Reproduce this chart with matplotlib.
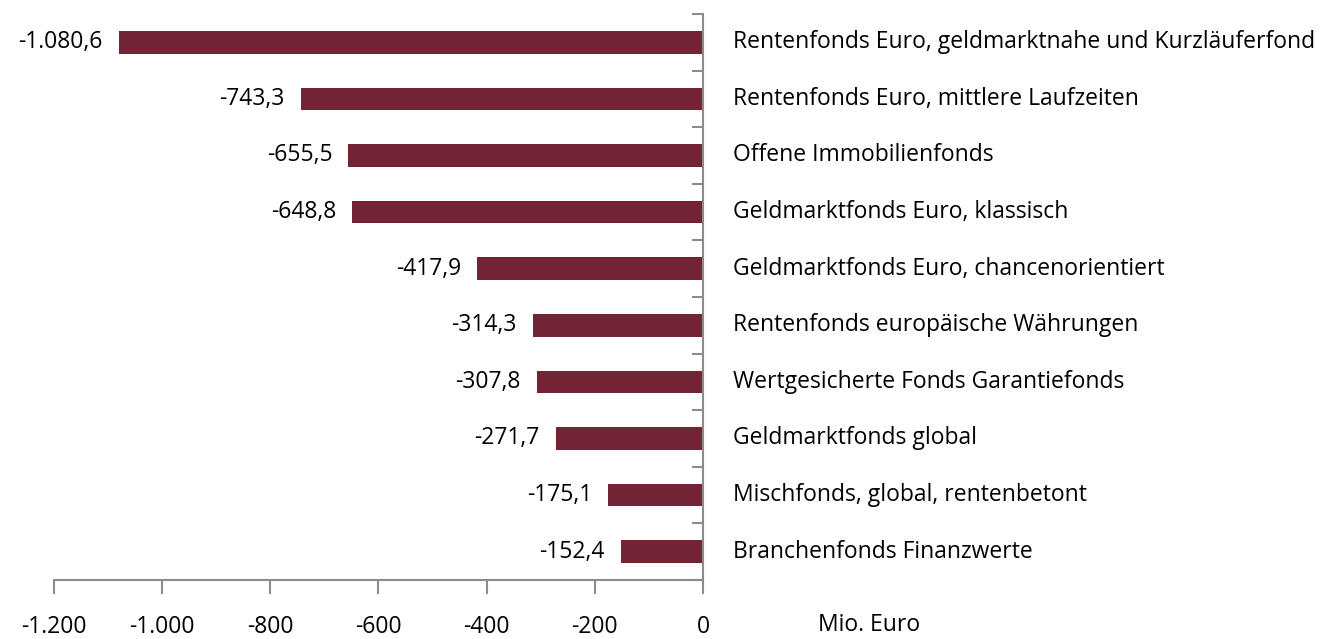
import matplotlib
matplotlib.use("Agg")
import matplotlib.pyplot as plt
import numpy as np

categories = [
    "Rentenfonds Euro, geldmarktnahe und Kurzläuferfond",
    "Rentenfonds Euro, mittlere Laufzeiten",
    "Offene Immobilienfonds",
    "Geldmarktfonds Euro, klassisch",
    "Geldmarktfonds Euro, chancenorientiert",
    "Rentenfonds europäische Währungen",
    "Wertgesicherte Fonds Garantiefonds",
    "Geldmarktfonds global",
    "Mischfonds, global, rentenbetont",
    "Branchenfonds Finanzwerte",
]
values = [-1080.6, -743.3, -655.5, -648.8, -417.9, -314.3, -307.8, -271.7, -175.1, -152.4]
xticks = [-1200, -1000, -800, -600, -400, -200, 0]
xticklabels = ["-1.200", "-1.000", "-800", "-600", "-400", "-200", "0"]

def fmt(v):
    s = f"{v:,.1f}"
    return s.replace(",", "X").replace(".", ",").replace("X", ".")

plt.rcParams['font.family'] = ['Open Sans', 'DejaVu Sans']
W, H = 1340, 639
fig = plt.figure(figsize=(W/100, H/100), dpi=100)
ax = fig.add_axes([54/W, (H-580)/H, (703-54)/W, (580-14)/H])

n = len(values)
y = np.arange(n)
ax.barh(y, values, height=0.4, color="#722334")
ax.set_ylim(n-0.5, -0.5)
ax.set_xlim(-1200, 0)

grey = "#8c8c8c"
for s in ["top", "left"]:
    ax.spines[s].set_visible(False)
ax.spines["right"].set_color(grey)
ax.spines["bottom"].set_color(grey)
ax.spines["right"].set_linewidth(1.5)
ax.spines["bottom"].set_linewidth(1.5)

ax.set_xticks(xticks)
ax.set_xticklabels(xticklabels, fontsize=16.5)
ax.tick_params(axis="x", direction="out", length=10, width=1.5, color=grey, pad=15)

ax.yaxis.set_ticks_position("right")
ax.set_yticks(np.arange(-0.5, n, 1.0))
ax.set_yticklabels([])
ax.tick_params(axis="y", direction="in", length=8, width=1.5, color=grey)

for i, (v, c) in enumerate(zip(values, categories)):
    ax.text(v - 30, i, fmt(v), ha="right", va="center", fontsize=16.5)
    ax.text(1.046, i, c, transform=ax.get_yaxis_transform(), ha="left", va="center", fontsize=16.5)

fig.text(818/W, 1 - 625/H, "Mio. Euro", ha="left", va="center", fontsize=16.5)

fig.savefig("out.png", dpi=100)
